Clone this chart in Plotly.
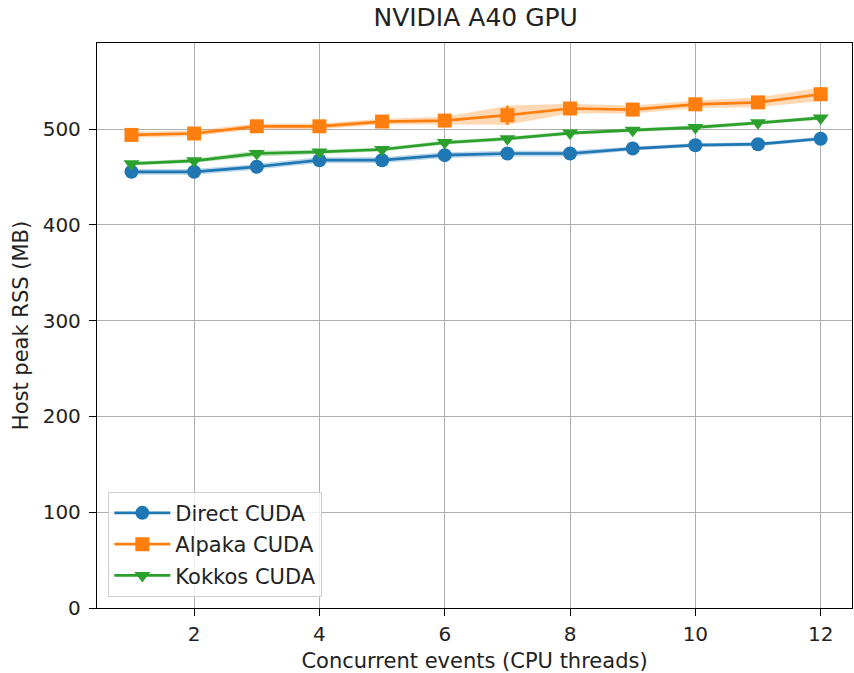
import plotly.graph_objects as go

threads = [1, 2, 3, 4, 5, 6, 7, 8, 9, 10, 11, 12]

direct_rss = [455.5, 455.5, 460.8, 467.6, 467.6, 472.9, 474.6, 474.6, 479.8, 483.3, 484.3, 490.0]
direct_err = [3, 3, 3, 3, 3, 3, 3, 3, 2, 2, 2, 2]

alpaka_rss = [494.0, 495.5, 503.0, 503.0, 508.0, 509.0, 514.6, 521.6, 520.5, 526.0, 528.0, 536.5]
alpaka_err = [3, 3, 3, 3, 3, 4, 10, 5, 4, 4, 5, 7]

kokkos_rss = [464.0, 467.0, 474.6, 476.3, 478.8, 486.0, 490.0, 495.9, 499.0, 501.8, 506.6, 511.8]
kokkos_err = [2, 2, 3, 2, 2, 2, 2, 2, 2, 2, 2, 2]

series = [
    ("Direct CUDA", direct_rss, direct_err, "#1f77b4", "rgba(31,119,180,0.3)", "circle"),
    ("Alpaka CUDA", alpaka_rss, alpaka_err, "#ff7f0e", "rgba(255,127,14,0.3)", "square"),
    ("Kokkos CUDA", kokkos_rss, kokkos_err, "#2ca02c", "rgba(44,160,44,0.3)", "triangle-down"),
]

FONT = "DejaVu Sans"

fig = go.Figure()

# shaded uncertainty bands
for name, y, e, color, band, sym in series:
    upper = [v + d for v, d in zip(y, e)]
    lower = [v - d for v, d in zip(y, e)]
    fig.add_trace(go.Scatter(
        x=threads + threads[::-1], y=upper + lower[::-1],
        fill="toself", fillcolor=band, line=dict(width=0),
        mode="lines", hoverinfo="skip", showlegend=False,
    ))

# lines with markers and error bars
for name, y, e, color, band, sym in series:
    fig.add_trace(go.Scatter(
        x=threads, y=y, name=name, mode="lines+markers", legendgroup=name,
        line=dict(color=color, width=2.7),
        marker=dict(symbol=sym, size=14, color=color),
        error_y=dict(type="data", array=e, color=color, thickness=2.5, width=0),
    ))

axis_common = dict(
    showgrid=True, gridcolor="#b0b0b0", gridwidth=1.2,
    showline=True, linecolor="black", linewidth=1.3, mirror=True,
    ticks="outside", ticklen=7, tickwidth=1.3, tickcolor="black",
    tickfont=dict(family=FONT, size=20, color="#222"),
    zeroline=False,
)

fig.update_layout(
    width=854, height=673,
    margin=dict(l=97, r=2, t=43, b=65),
    paper_bgcolor="white", plot_bgcolor="white",
    title=dict(text="NVIDIA A40 GPU", x=0.557, xanchor="center", y=0.975, yanchor="middle",
               font=dict(family=FONT, size=25, color="#222")),
    xaxis=dict(axis_common, range=[0.45, 12.5], tickvals=[2, 4, 6, 8, 10, 12],
               ticklabelstandoff=1,
               title=dict(text="Concurrent events (CPU threads)", standoff=8,
                          font=dict(family=FONT, size=21, color="#222"))),
    yaxis=dict(axis_common, range=[0, 590], tickvals=[0, 100, 200, 300, 400, 500],
               ticklabelstandoff=4,
               title=dict(text="Host peak RSS (MB)", standoff=8,
                          font=dict(family=FONT, size=21, color="#222"))),
    legend=dict(x=0.015, y=0.02, xanchor="left", yanchor="bottom",
                bgcolor="rgba(255,255,255,0.8)", bordercolor="#d0d0d0", borderwidth=1,
                itemwidth=56, tracegroupgap=1,
                font=dict(family=FONT, size=21, color="#222")),
)

fig.write_html("out.html")
